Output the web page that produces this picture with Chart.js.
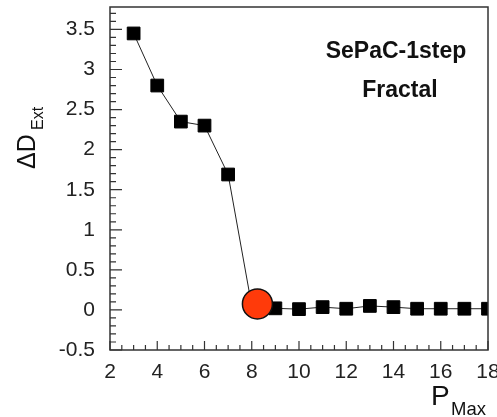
<!DOCTYPE html>
<html>
<head>
<meta charset="utf-8">
<script src="https://cdn.jsdelivr.net/npm/chart.js@4"></script>
<style>
  html, body { margin: 0; padding: 0; background: #fff; overflow: hidden; }
  #wrap { width: 497px; height: 417px; }
  canvas { display: block; }
</style>
</head>
<body>
<div id="wrap"><canvas id="chart" width="497" height="417"></canvas></div>
<script>
// data
const pMax = [3, 4, 5, 6, 7, 8, 9, 10, 11, 12, 13, 14, 15, 16, 17, 18];
const deltaD = [3.45, 2.80, 2.35, 2.30, 1.69, 0.05, 0.02, 0.01, 0.035, 0.015, 0.05, 0.035, 0.015, 0.015, 0.015, 0.015];
const chosenX = [8.24];
const chosenY = [0.075];
const xTicks = [2, 4, 6, 8, 10, 12, 14, 16, 18];
const yTicks = [-0.5, 0, 0.5, 1, 1.5, 2, 2.5, 3, 3.5];
const textLines = ['SePaC-1step', 'Fractal'];

const FONT = '"Liberation Sans", Arial, sans-serif';

// frame, inward ticks and labels
const framePlugin = {
    id: 'frame',
    afterDraw(chart) {
        const ctx = chart.ctx;
        const a = chart.chartArea;
        const xs = chart.scales.x;
        const ys = chart.scales.y;
        ctx.save();
        ctx.strokeStyle = '#333';
        ctx.lineWidth = 1.5;
        ctx.strokeRect(a.left, a.top, a.right - a.left, a.bottom - a.top);

        ctx.lineWidth = 1.2;
        ctx.beginPath();
        // y ticks: major every 0.5, minor every 0.1
        for (let i = -5; i <= 37; i++) {
            const v = i / 10;
            const py = ys.getPixelForValue(v);
            if (py < a.top) continue;
            const len = (i % 5 === 0) ? 12 : 6;
            ctx.moveTo(a.left, py);
            ctx.lineTo(a.left + len, py);
        }
        // x ticks: major every 2, minor every 0.5
        for (let i = 4; i <= 36; i++) {
            const v = i / 2;
            const px = xs.getPixelForValue(v);
            const len = (i % 4 === 0) ? 9 : 5;
            ctx.moveTo(px, a.bottom);
            ctx.lineTo(px, a.bottom - len);
        }
        ctx.stroke();

        // annotation text
        ctx.fillStyle = '#111';
        ctx.textAlign = 'center';
        ctx.textBaseline = 'alphabetic';
        ctx.font = 'bold 23px ' + FONT;
        ctx.fillText(textLines[0], 396, 58);
        ctx.fillText(textLines[1], 400, 97);

        // x axis title P_Max
        ctx.textAlign = 'left';
        ctx.font = '28px ' + FONT;
        ctx.fillText('P', 431, 405);
        ctx.font = '18.5px ' + FONT;
        ctx.fillText('Max', 451, 415);

        // y axis title ΔD_Ext
        ctx.save();
        ctx.translate(35, 169);
        ctx.rotate(-Math.PI / 2);
        ctx.font = '25px ' + FONT;
        ctx.fillText('\u0394D', 0, 0);
        ctx.restore();
        ctx.save();
        ctx.translate(43, 130);
        ctx.rotate(-Math.PI / 2);
        ctx.font = '16px ' + FONT;
        ctx.fillText('Ext', 0, 0);
        ctx.restore();

        ctx.restore();
    }
};

const ctx = document.getElementById('chart').getContext('2d');
new Chart(ctx, {
    type: 'scatter',
    data: {
        datasets: [
            {
                data: chosenX.map((x, i) => ({ x: x, y: chosenY[i] })),
                showLine: false,
                pointStyle: 'circle',
                pointRadius: 15,
                pointHoverRadius: 15,
                backgroundColor: '#ff3a0a',
                borderColor: '#111',
                borderWidth: 1.5,
                order: 0
            },
            {
                data: pMax.map((x, i) => ({ x: x, y: deltaD[i] })),
                showLine: true,
                borderColor: '#222',
                borderWidth: 1,
                pointStyle: 'rect',
                pointRadius: 9,
                pointHoverRadius: 9,
                pointBackgroundColor: '#000',
                pointBorderColor: '#000',
                pointBorderWidth: 1,
                order: 1
            }
        ]
    },
    options: {
        responsive: false,
        animation: false,
        events: [],
        layout: { autoPadding: false, padding: { top: 7, right: 9, left: 0, bottom: 0 } },
        plugins: {
            legend: { display: false },
            tooltip: { enabled: false }
        },
        scales: {
            x: {
                type: 'linear',
                min: 2,
                max: 18,
                afterFit(scale) {
                    scale.height = 67;
                    scale.paddingLeft = 0;
                    scale.paddingRight = 0;
                },
                afterBuildTicks(scale) { scale.ticks = xTicks.map(v => ({ value: v })); },
                grid: { display: false, drawTicks: false },
                border: { display: false },
                ticks: {
                    autoSkip: false,
                    maxRotation: 0,
                    padding: 10,
                    color: '#222',
                    font: { family: FONT, size: 21 }
                }
            },
            y: {
                type: 'linear',
                min: -0.5,
                max: 3.78,
                afterFit(scale) {
                    scale.width = 110;
                    scale.paddingTop = 0;
                    scale.paddingBottom = 0;
                },
                afterBuildTicks(scale) { scale.ticks = yTicks.map(v => ({ value: v })); },
                grid: { display: false, drawTicks: false },
                border: { display: false },
                ticks: {
                    padding: 15,
                    color: '#222',
                    font: { family: FONT, size: 21 },
                    callback: v => String(v)
                }
            }
        }
    },
    plugins: [framePlugin]
});
</script>
</body>
</html>
